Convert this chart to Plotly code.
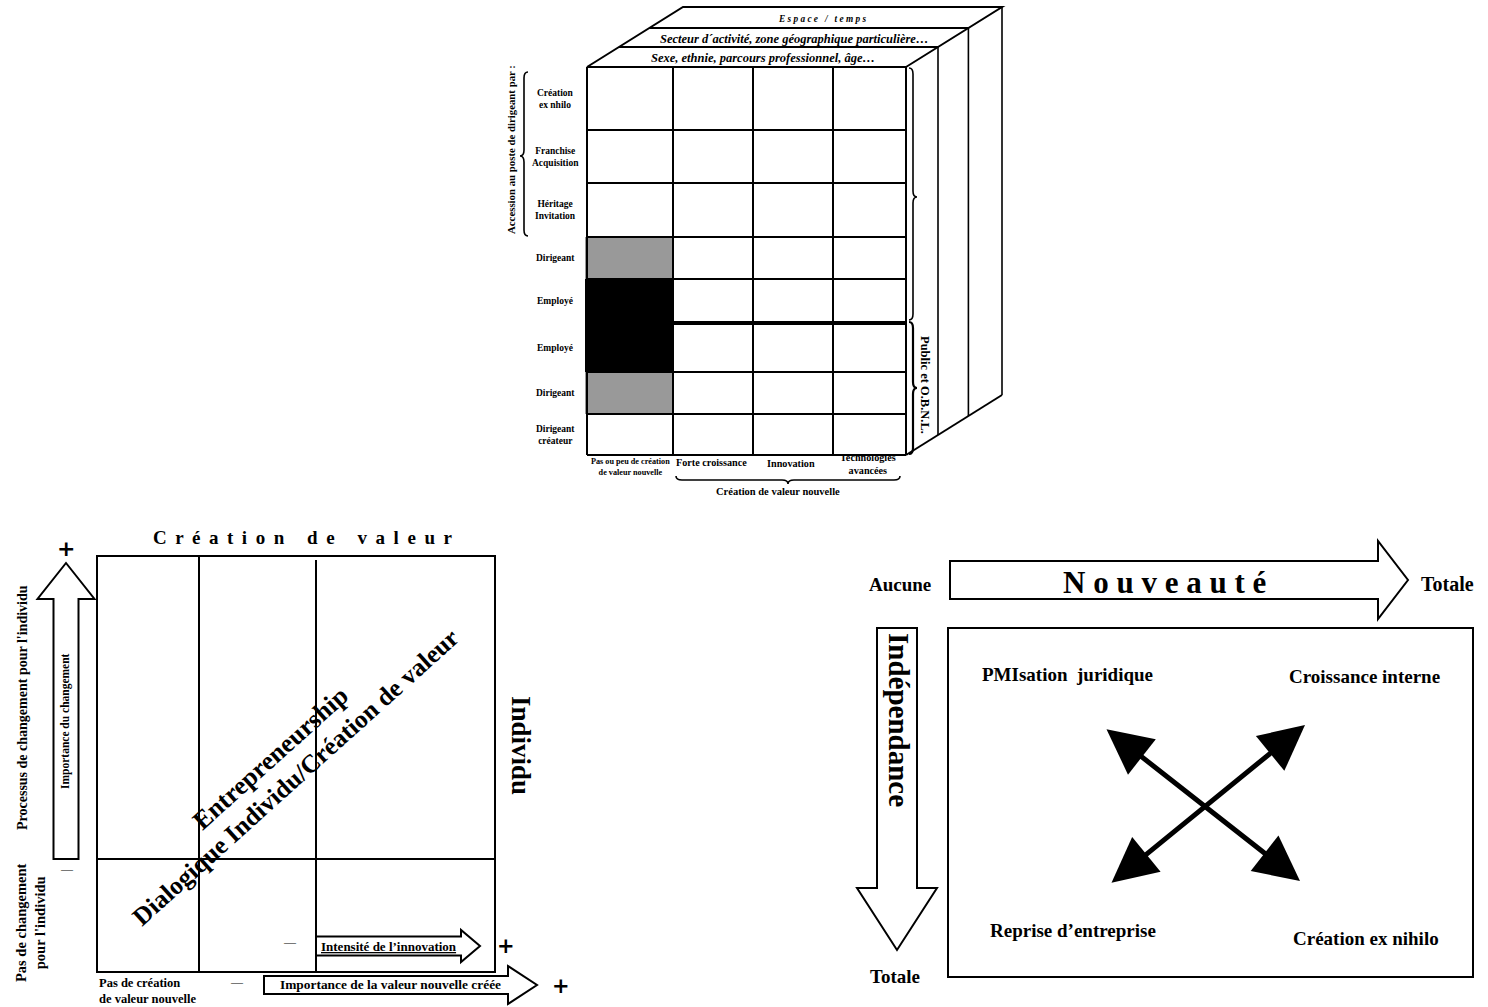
import plotly.graph_objects as go

# ---------------- data (labels / categories) ----------------
layer_labels = ["Sexe, ethnie, parcours professionnel, âge…",
                "Secteur d´activité, zone géographique particulière…",
                "Espace / temps"]
row_labels = ["Création<br>ex nhilo", "Franchise<br>Acquisition", "Héritage<br>Invitation",
              "Dirigeant", "Employé", "Employé", "Dirigeant", "Dirigeant<br>créateur"]
row_shade = [0, 0, 0, 1, 2, 2, 1, 0]          # shading level of first column cell
col_labels = ["Pas ou peu de création<br>de valeur nouvelle", "Forte croissance",
              "Innovation", "Technologies<br>avancées"]
left_group_label = "Accession au poste de dirigeant par :"
right_group_label = "Public et O.B.N.L."
bottom_group_label = "Création de valeur nouvelle"

cv_title = "Création de valeur"
cv_diag = ["Entrepreneurship", "Dialogique Individu/Création de valeur"]
cv_side = "Individu"
cv_y_labels = ["Processus de changement pour l'individu", "Pas de changement<br>pour l'individu"]
cv_arrow_labels = ["Importance du changement", "Intensité de l’innovation",
                   "Importance de la valeur nouvelle créée"]
cv_x_low = "Pas de création<br>de valeur nouvelle"

nv_title = "Nouveauté"
nv_ends = ["Aucune", "Totale"]
ind_title = "Indépendance"
ind_end = "Totale"
quad_labels = ["PMIsation  juridique", "Croissance interne", "Reprise d’entreprise", "Création ex nihilo"]

# ---------------- geometry ----------------
W, H = 1488, 1007
FONT = "Liberation Serif, Times New Roman, serif"
col_x = [587, 673, 753, 833, 906]
row_y = [67, 130, 183, 237, 279, 323, 372, 414, 455]
layer_y = [67, 47, 28, 7]
slope = 96 / 60.0   # horizontal shift per vertical px of the top face

shapes = []
ann = []


def spaced(s, gap=" ", word_gap="   "):
    return word_gap.join(gap.join(list(w)) for w in s.split(" "))


def line(x0, y0, x1, y1, w=2, color="black"):
    shapes.append(dict(type="line", xref="x", yref="y", x0=x0, y0=y0, x1=x1, y1=y1,
                       line=dict(color=color, width=w)))


def path(d, w=2, fill=None):
    s = dict(type="path", xref="x", yref="y", path=d, line=dict(color="black", width=w))
    if fill:
        s["fillcolor"] = fill
    shapes.append(s)


def text(x, y, t, size=10, bold=True, italic=False, angle=0, xanchor="center", yanchor="middle",
         family=FONT, align="center"):
    if bold:
        t = "<b>" + t + "</b>"
    if italic:
        t = "<i>" + t + "</i>"
    ann.append(dict(x=x, y=y, xref="x", yref="y", text=t, showarrow=False, textangle=angle,
                    xanchor=xanchor, yanchor=yanchor, align=align,
                    font=dict(family=family, size=size, color="black")))


def brace_v(x, y0, y1, ym, d, w, lw=1.6):
    b = x + d * w / 2
    t = x + d * w
    r = 6
    p = (f"M {x},{y0} Q {b},{y0} {b},{y0 + r} L {b},{ym - r} Q {b},{ym} {t},{ym} "
         f"Q {b},{ym} {b},{ym + r} L {b},{y1 - r} Q {b},{y1} {x},{y1}")
    path(p, lw)


def brace_h(y, x0, x1, xm, d, w, lw=1.6):
    b = y + d * w / 2
    t = y + d * w
    r = 6
    p = (f"M {x0},{y} Q {x0},{b} {x0 + r},{b} L {xm - r},{b} Q {xm},{b} {xm},{t} "
         f"Q {xm},{b} {xm + r},{b} L {x1 - r},{b} Q {x1},{b} {x1},{y}")
    path(p, lw)


def arrow_right(x0, xb, xt, yc, sh, hh, lw=2):
    path(f"M {x0},{yc - sh} L {xb},{yc - sh} L {xb},{yc - hh} L {xt},{yc} L {xb},{yc + hh} "
         f"L {xb},{yc + sh} L {x0},{yc + sh} Z", lw, "white")


def arrow_vert(y0, yb, yt, xc, sh, hh, lw=2):
    path(f"M {xc - sh},{y0} L {xc - sh},{yb} L {xc - hh},{yb} L {xc},{yt} L {xc + hh},{yb} "
         f"L {xc + sh},{yb} L {xc + sh},{y0} Z", lw, "white")


# ================= TOP: cube =================
shade_colors = {0: None, 1: "#999999", 2: "black"}
for i, lvl in enumerate(row_shade):
    c = shade_colors[lvl]
    if c:
        shapes.append(dict(type="rect", xref="x", yref="y", x0=col_x[0] - 2, x1=col_x[1],
                           y0=row_y[i], y1=row_y[i + 1], fillcolor=c, line=dict(width=0)))
for x in col_x:
    line(x, row_y[0], x, row_y[-1], 2)
for y in row_y:
    line(col_x[0], y, col_x[-1], y, 2)
line(col_x[1], row_y[5], col_x[-1], row_y[5], 4)

# top face layers
lx = [col_x[0] + (layer_y[0] - y) * slope for y in layer_y]
rx = [col_x[-1] + (layer_y[0] - y) * slope for y in layer_y]
path(f"M {lx[0]},{layer_y[0]} L {lx[3]},{layer_y[3]} L {rx[3]},{layer_y[3]} L {rx[0]},{layer_y[0]}", 2)
for k in (1, 2):
    line(lx[k], layer_y[k], rx[k], layer_y[k], 2)
# right face
bot_r = (rx[3], row_y[-1] - (layer_y[0] - layer_y[3]))
line(col_x[-1], row_y[-1], bot_r[0], bot_r[1], 2)
for k in (1, 2, 3):
    xk = rx[k]
    yb = row_y[-1] - (xk - col_x[-1]) / slope
    line(xk, layer_y[k], xk, yb, 1.6)
layer_sizes = [12.5, 12.5, 9.3]
for k, lab in enumerate(layer_labels):
    yc = (layer_y[k] + layer_y[k + 1]) / 2
    xc = (lx[k] + rx[k] + lx[k + 1] + rx[k + 1]) / 4
    t = spaced(lab, " ", "   ") if k == 2 else lab
    text(xc - (4 if k == 2 else 0), yc + 1, t, size=layer_sizes[k], italic=True)

# row labels
for i, lab in enumerate(row_labels):
    text(555, (row_y[i] + row_y[i + 1]) / 2, lab, size=9.5)
# column labels
col_label_y = [467, 462, 463, 464]
for j, lab in enumerate(col_labels):
    xc = (col_x[j] + col_x[j + 1]) / 2
    if j == 0:
        text(xc, col_label_y[j], lab, size=8.2,
             family="Liberation Sans Narrow, Liberation Serif, serif")
    else:
        text(xc - 2, col_label_y[j], lab, size=10.2)
brace_h(476, 676, 900, 788, 1, 8)
text(778, 491, bottom_group_label, size=10.5)

# left brace + label
brace_v(528, 72, 236, 156, -1, 8)
text(511, 150, left_group_label, size=10.8, angle=-90)
# right braces + label
brace_v(909, 68, 320, 197, 1, 8)
brace_v(909, 322, 454, 388, 1, 8, lw=2.2)
text(925, 385, right_group_label, size=12.5, angle=90)

# ================= BOTTOM LEFT: Création de valeur =================
bx0, bx1, by0, by1 = 97, 495, 556, 972
shapes.append(dict(type="rect", xref="x", yref="y", x0=bx0, x1=bx1, y0=by0, y1=by1,
                   line=dict(color="black", width=2)))
line(199, by0, 199, by1, 2)
line(316, 560, 316, by1, 2)
line(bx0, 859, bx1, 859, 2)
text(303, 537, spaced(cv_title, " \u2009", "  \u2009  "), size=19)

arrow_vert(859, 599, 563, 66, 12.5, 28.5)
text(66, 548, "+", size=22, family="DejaVu Sans")
text(67, 869, "—", size=12, bold=False)
text(65, 721, cv_arrow_labels[0], size=11.5, angle=-90)
text(22, 708, cv_y_labels[0], size=14, angle=-90)
text(30, 923, cv_y_labels[1], size=14.5, angle=-90)
text(521, 745, cv_side, size=27, angle=90)

text(270, 758, cv_diag[0], size=26, angle=-42)
text(295, 777, cv_diag[1], size=25.5, angle=-42)

arrow_right(316, 461, 480, 946, 9.5, 16)
text(389, 946, "<u>" + cv_arrow_labels[1] + "</u>", size=13)
text(290, 942, "—", size=12, bold=False)
text(506, 946, "+", size=21, family="DejaVu Sans")

arrow_right(264, 508, 537, 985, 9, 19)
text(390, 984, cv_arrow_labels[2], size=13.4)
text(237, 982, "—", size=12, bold=False)
text(561, 986, "+", size=21, family="DejaVu Sans")
text(97, 991, cv_x_low, size=12.5, xanchor="left", align="left")

# ================= BOTTOM RIGHT: Nouveauté / Indépendance =================
arrow_right(950, 1378, 1408, 580, 19, 39)
text(1164, 582, spaced(nv_title), size=31)
text(900, 584, nv_ends[0], size=19)
text(1447, 584, nv_ends[1], size=20)

arrow_vert(628, 888, 950, 897, 20, 40)
text(899, 720, ind_title, size=29, angle=90)
text(895, 976, ind_end, size=19)

shapes.append(dict(type="rect", xref="x", yref="y", x0=948, x1=1473, y0=628, y1=977,
                   line=dict(color="black", width=2)))
text(1067, 674, quad_labels[0], size=19)
text(1364, 676, quad_labels[1], size=19)
text(1073, 930, quad_labels[2], size=19)
text(1366, 938, quad_labels[3], size=19)

for (xa, ya, xb_, yb_) in [(1105, 728, 1300, 881), (1110, 884, 1305, 725)]:
    ann.append(dict(x=xb_, y=yb_, ax=xa, ay=ya, xref="x", yref="y", axref="x", ayref="y",
                    text="", showarrow=True, arrowhead=2, startarrowhead=2,
                    arrowsize=1.8, startarrowsize=1.8, arrowwidth=5, arrowcolor="black",
                    arrowside="end+start", standoff=0, startstandoff=0))

fig = go.Figure()
fig.add_trace(go.Scatter(x=[0, W], y=[0, H], mode="markers", marker=dict(opacity=0),
                         hoverinfo="skip", showlegend=False))
fig.update_layout(
    width=W, height=H, autosize=False,
    margin=dict(l=0, r=0, t=0, b=0, pad=0),
    paper_bgcolor="white", plot_bgcolor="white",
    xaxis=dict(range=[0, W], visible=False, fixedrange=True),
    yaxis=dict(range=[H, 0], visible=False, fixedrange=True),
    shapes=shapes, annotations=ann, showlegend=False,
)
fig.write_html("out.html", config={"displayModeBar": False},
               post_script="document.body.style.margin='0';")
